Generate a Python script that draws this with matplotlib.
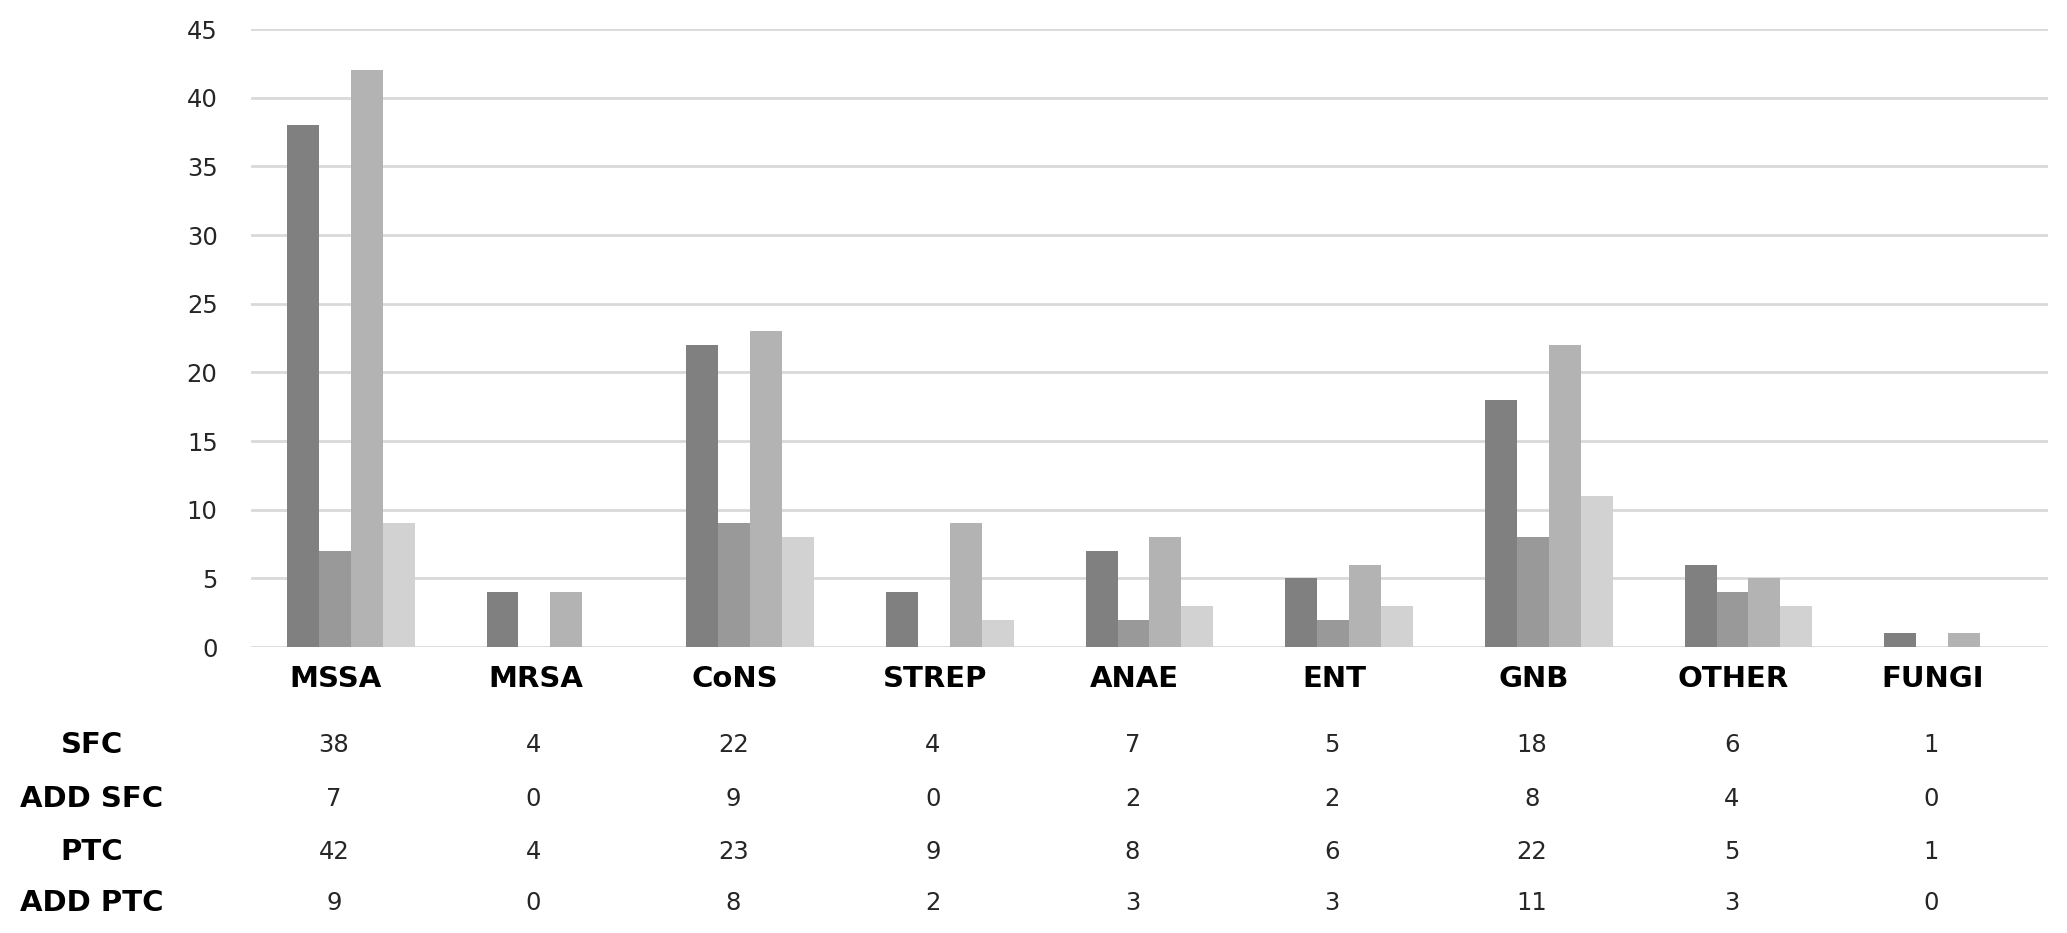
import matplotlib.pyplot as plt
import matplotlib.transforms as mtransforms
import numpy as np

# data
categories = ['MSSA', 'MRSA', 'CoNS', 'STREP', 'ANAE', 'ENT', 'GNB', 'OTHER', 'FUNGI']
series_names = ['SFC', 'ADD SFC', 'PTC', 'ADD PTC']
sfc = [38, 4, 22, 4, 7, 5, 18, 6, 1]
add_sfc = [7, 0, 9, 0, 2, 2, 8, 4, 0]
ptc = [42, 4, 23, 9, 8, 6, 22, 5, 1]
add_ptc = [9, 0, 8, 2, 3, 3, 11, 3, 0]
yticks = [0, 5, 10, 15, 20, 25, 30, 35, 40, 45]

series = [sfc, add_sfc, ptc, add_ptc]
colors = ['#808080', '#999999', '#b3b3b3', '#d2d2d2']

plt.rcParams['font.family'] = ['DejaVu Sans']

fig = plt.figure(figsize=(20.67, 9.33), dpi=100)
ax = fig.add_axes([0.1214, 0.3065, 0.8694, 0.6624])

x = np.arange(len(categories))
w = 0.16
for k in range(4):
    ax.bar(x + (k - 1.5) * w, series[k], width=w, color=colors[k], zorder=3)

for t in yticks:
    ax.axhline(t, color='#d9d9d9', lw=2, zorder=1)

ax.set_xlim(-0.5, len(categories) - 0.5)
ax.set_ylim(0, 45)
ax.set_yticks(yticks)
ax.set_xticks([])
ax.tick_params(axis='y', length=0, pad=24, labelsize=17.5, labelcolor='#262626')
for s in ax.spines.values():
    s.set_visible(False)

# category labels and the data table underneath
blend = mtransforms.blended_transform_factory(ax.transData, fig.transFigure)

for i, c in enumerate(categories):
    ax.text(i - 0.075, 1 - 679 / 933, c, transform=blend, ha='center', va='center',
            fontsize=21, fontweight='bold', color='black')

row_y = [745, 799, 852, 903]
for r, name in enumerate(series_names):
    yy = 1 - row_y[r] / 933
    fig.text(92 / 2067, yy, name, ha='center', va='center', fontsize=21,
             fontweight='bold', color='black')
    for i in range(len(categories)):
        ax.text(i - 0.085, yy, str(series[r][i]), transform=blend, ha='center',
                va='center', fontsize=17.5, color='#262626')

fig.savefig('out.png', dpi=100, facecolor='white')
